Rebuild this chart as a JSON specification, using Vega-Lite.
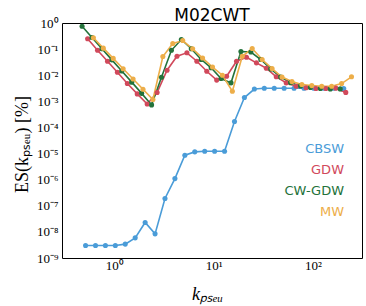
{
  "$schema": "https://vega.github.io/schema/vega-lite/v6.json",
  "width": 300,
  "height": 235,
  "autosize": {"type": "none"},
  "padding": {"left": 62, "top": 23, "right": 4, "bottom": 48},
  "background": "white",
  "title": {"text": "M02CWT", "font": "DejaVu Sans", "fontSize": 17, "fontWeight": "normal", "color": "black", "baseline": "alphabetic", "offset": -21, "frame": "group"},
  "config": {
    "view": {"stroke": "black", "strokeWidth": 1},
    "axis": {"grid": false, "domain": false, "tickColor": "black", "tickWidth": 0.8, "labelColor": "black", "titleColor": "black", "labelOverlap": false, "labelFlush": false, "labelBound": false}
  },
  "data": {"values": [
    {"m": "CBSW", "k": 0.513, "es": 3.0e-9}, {"m": "CBSW", "k": 0.646, "es": 3.0e-9}, {"m": "CBSW", "k": 0.813, "es": 3.0e-9}, {"m": "CBSW", "k": 1.023, "es": 3.0e-9},
    {"m": "CBSW", "k": 1.288, "es": 3.4e-9}, {"m": "CBSW", "k": 1.622, "es": 5.9e-9}, {"m": "CBSW", "k": 2.042, "es": 2.3e-8}, {"m": "CBSW", "k": 2.571, "es": 8.4e-9},
    {"m": "CBSW", "k": 3.236, "es": 1.9e-7}, {"m": "CBSW", "k": 4.074, "es": 1.1e-6}, {"m": "CBSW", "k": 5.129, "es": 8.6e-6}, {"m": "CBSW", "k": 6.457, "es": 1.16e-5},
    {"m": "CBSW", "k": 8.129, "es": 1.22e-5}, {"m": "CBSW", "k": 10.23, "es": 1.22e-5}, {"m": "CBSW", "k": 12.88, "es": 1.22e-5}, {"m": "CBSW", "k": 16.22, "es": 1.7e-4},
    {"m": "CBSW", "k": 20.42, "es": 1.4e-3}, {"m": "CBSW", "k": 25.71, "es": 2.95e-3}, {"m": "CBSW", "k": 32.36, "es": 3.15e-3}, {"m": "CBSW", "k": 40.74, "es": 3.15e-3},
    {"m": "CBSW", "k": 51.29, "es": 3.15e-3}, {"m": "CBSW", "k": 64.57, "es": 3.15e-3}, {"m": "CBSW", "k": 81.29, "es": 3.15e-3}, {"m": "CBSW", "k": 102.3, "es": 3.15e-3},
    {"m": "CBSW", "k": 128.8, "es": 3.15e-3}, {"m": "CBSW", "k": 162.2, "es": 3.15e-3}, {"m": "CBSW", "k": 204.2, "es": 3.1e-3},
    {"m": "GDW", "k": 0.538, "es": 0.248}, {"m": "GDW", "k": 0.677, "es": 0.0906}, {"m": "GDW", "k": 0.853, "es": 0.0343}, {"m": "GDW", "k": 1.073, "es": 0.013},
    {"m": "GDW", "k": 1.351, "es": 0.0048}, {"m": "GDW", "k": 1.701, "es": 0.00193}, {"m": "GDW", "k": 2.142, "es": 0.00079}, {"m": "GDW", "k": 2.696, "es": 0.00217},
    {"m": "GDW", "k": 3.394, "es": 0.0155}, {"m": "GDW", "k": 4.273, "es": 0.0534}, {"m": "GDW", "k": 5.38, "es": 0.0721}, {"m": "GDW", "k": 6.773, "es": 0.0343},
    {"m": "GDW", "k": 8.527, "es": 0.0142}, {"m": "GDW", "k": 10.73, "es": 0.0065}, {"m": "GDW", "k": 13.51, "es": 0.0091}, {"m": "GDW", "k": 17.01, "es": 0.0343},
    {"m": "GDW", "k": 21.42, "es": 0.0489}, {"m": "GDW", "k": 26.96, "es": 0.0298}, {"m": "GDW", "k": 33.94, "es": 0.0185}, {"m": "GDW", "k": 42.73, "es": 0.0087},
    {"m": "GDW", "k": 53.8, "es": 0.0051}, {"m": "GDW", "k": 67.73, "es": 0.0038}, {"m": "GDW", "k": 85.27, "es": 0.0033}, {"m": "GDW", "k": 107.3, "es": 0.0031},
    {"m": "GDW", "k": 135.1, "es": 0.0031}, {"m": "GDW", "k": 170.1, "es": 0.0032}, {"m": "GDW", "k": 214.2, "es": 0.0022},
    {"m": "CW-GDW", "k": 0.473, "es": 0.754}, {"m": "CW-GDW", "k": 0.595, "es": 0.28}, {"m": "CW-GDW", "k": 0.75, "es": 0.104}, {"m": "CW-GDW", "k": 0.944, "es": 0.0388},
    {"m": "CW-GDW", "k": 1.188, "es": 0.0146}, {"m": "CW-GDW", "k": 1.496, "es": 0.00543}, {"m": "CW-GDW", "k": 1.883, "es": 0.00202}, {"m": "CW-GDW", "k": 2.371, "es": 0.00073},
    {"m": "CW-GDW", "k": 2.984, "es": 0.0084}, {"m": "CW-GDW", "k": 3.757, "es": 0.09}, {"m": "CW-GDW", "k": 4.73, "es": 0.233}, {"m": "CW-GDW", "k": 5.955, "es": 0.103},
    {"m": "CW-GDW", "k": 7.497, "es": 0.04}, {"m": "CW-GDW", "k": 9.438, "es": 0.0192}, {"m": "CW-GDW", "k": 11.88, "es": 0.0075}, {"m": "CW-GDW", "k": 14.96, "es": 0.0051},
    {"m": "CW-GDW", "k": 18.83, "es": 0.081}, {"m": "CW-GDW", "k": 23.71, "es": 0.077}, {"m": "CW-GDW", "k": 29.84, "es": 0.04}, {"m": "CW-GDW", "k": 37.57, "es": 0.0173},
    {"m": "CW-GDW", "k": 47.3, "es": 0.0085}, {"m": "CW-GDW", "k": 59.55, "es": 0.0052}, {"m": "CW-GDW", "k": 74.97, "es": 0.0039}, {"m": "CW-GDW", "k": 94.38, "es": 0.0034},
    {"m": "CW-GDW", "k": 118.8, "es": 0.0031}, {"m": "CW-GDW", "k": 149.6, "es": 0.003}, {"m": "CW-GDW", "k": 188.3, "es": 0.003},
    {"m": "MW", "k": 0.615, "es": 0.271}, {"m": "MW", "k": 0.774, "es": 0.109}, {"m": "MW", "k": 0.974, "es": 0.044}, {"m": "MW", "k": 1.226, "es": 0.0177},
    {"m": "MW", "k": 1.544, "es": 0.0072}, {"m": "MW", "k": 1.943, "es": 0.0029}, {"m": "MW", "k": 2.446, "es": 0.00117}, {"m": "MW", "k": 3.08, "es": 0.052},
    {"m": "MW", "k": 3.877, "es": 0.164}, {"m": "MW", "k": 4.881, "es": 0.213}, {"m": "MW", "k": 6.145, "es": 0.103}, {"m": "MW", "k": 7.736, "es": 0.0455},
    {"m": "MW", "k": 9.739, "es": 0.0206}, {"m": "MW", "k": 12.26, "es": 0.01}, {"m": "MW", "k": 15.44, "es": 0.00243}, {"m": "MW", "k": 19.43, "es": 0.053},
    {"m": "MW", "k": 24.46, "es": 0.105}, {"m": "MW", "k": 30.8, "es": 0.04}, {"m": "MW", "k": 38.77, "es": 0.018}, {"m": "MW", "k": 48.81, "es": 0.0085},
    {"m": "MW", "k": 61.45, "es": 0.0057}, {"m": "MW", "k": 77.36, "es": 0.0044}, {"m": "MW", "k": 97.39, "es": 0.004}, {"m": "MW", "k": 122.6, "es": 0.0038},
    {"m": "MW", "k": 154.4, "es": 0.0038}, {"m": "MW", "k": 194.3, "es": 0.0048}, {"m": "MW", "k": 244.6, "es": 0.0087}
  ]},
  "layer": [
    {
      "mark": {"type": "line", "strokeWidth": 1.6},
      "encoding": {
        "x": {"field": "k", "type": "quantitative", "scale": {"type": "log", "domain": [0.297, 312], "nice": false},
          "axis": {"orient": "bottom", "tickSize": 0,
            "values": [0.3,0.4,0.5,0.6,0.7,0.8,0.9,1,2,3,4,5,6,7,8,9,10,20,30,40,50,60,70,80,90,100,200,300],
            "labelExpr": "abs(log(datum.value)/LN10 - round(log(datum.value)/LN10)) < 1e-6 ? '10' + (round(log(datum.value)/LN10) < 0 ? '⁻' : '') + ['⁰','¹','²','³','⁴','⁵','⁶','⁷','⁸','⁹'][abs(round(log(datum.value)/LN10))] : ''",
            "labelFont": "Liberation Serif", "labelFontSize": 13, "labelPadding": 1,
            "encode": {"ticks": {"update": {"y2": {"signal": "abs(log(datum.value)/LN10 - round(log(datum.value)/LN10)) < 1e-6 ? -5 : -2.5"}}}},
            "title": "kₚₛₑᵤ", "titleFont": "Liberation Serif", "titleFontStyle": "italic", "titleFontSize": 18, "titleFontWeight": "normal", "titlePadding": 13, "titleX": 145}},
        "y": {"field": "es", "type": "quantitative", "scale": {"type": "log", "domain": [1e-9, 1], "nice": false},
          "axis": {"orient": "left", "tickSize": 0,
            "values": [1e-9,2e-9,3e-9,4e-9,5e-9,6e-9,7e-9,8e-9,9e-9,1e-8,2e-8,3e-8,4e-8,5e-8,6e-8,7e-8,8e-8,9e-8,1e-7,2e-7,3e-7,4e-7,5e-7,6e-7,7e-7,8e-7,9e-7,1e-6,2e-6,3e-6,4e-6,5e-6,6e-6,7e-6,8e-6,9e-6,1e-5,2e-5,3e-5,4e-5,5e-5,6e-5,7e-5,8e-5,9e-5,1e-4,2e-4,3e-4,4e-4,5e-4,6e-4,7e-4,8e-4,9e-4,1e-3,2e-3,3e-3,4e-3,5e-3,6e-3,7e-3,8e-3,9e-3,1e-2,2e-2,3e-2,4e-2,5e-2,6e-2,7e-2,8e-2,9e-2,0.1,0.2,0.3,0.4,0.5,0.6,0.7,0.8,0.9,1],
            "labelExpr": "abs(log(datum.value)/LN10 - round(log(datum.value)/LN10)) < 1e-6 ? '10' + (round(log(datum.value)/LN10) < 0 ? '⁻' : '') + ['⁰','¹','²','³','⁴','⁵','⁶','⁷','⁸','⁹'][abs(round(log(datum.value)/LN10))] : ''",
            "labelFont": "Liberation Serif", "labelFontSize": 13, "labelPadding": 4,
            "encode": {"ticks": {"update": {"x2": {"signal": "abs(log(datum.value)/LN10 - round(log(datum.value)/LN10)) < 1e-6 ? 5 : 2.5"}}}},
            "title": "ES(kₚₛₑᵤ)  [%]", "titleFont": "Liberation Serif", "titleFontSize": 18, "titleFontWeight": "normal", "titlePadding": 5, "titleY": 121}},
        "color": {"field": "m", "type": "nominal",
          "scale": {"domain": ["CBSW", "GDW", "CW-GDW", "MW"], "range": ["#4a9cd8", "#d1495b", "#23723a", "#edae49"]},
          "legend": {"orient": "none", "legendX": 269, "legendY": 119, "title": null, "symbolSize": 0, "symbolStrokeWidth": 0, "symbolOpacity": 0,
            "labelAlign": "right", "labelFont": "DejaVu Sans", "labelFontSize": 13, "labelOffset": 0, "rowPadding": 7,
            "encode": {"labels": {"update": {"fill": {"scale": "color", "field": "value"}}}}}}
      }
    },
    {
      "mark": {"type": "circle", "size": 26, "opacity": 1},
      "encoding": {
        "x": {"field": "k", "type": "quantitative", "scale": {"type": "log", "domain": [0.297, 312], "nice": false}, "axis": null},
        "y": {"field": "es", "type": "quantitative", "scale": {"type": "log", "domain": [1e-9, 1], "nice": false}, "axis": null},
        "color": {"field": "m", "type": "nominal", "scale": {"domain": ["CBSW", "GDW", "CW-GDW", "MW"], "range": ["#4a9cd8", "#d1495b", "#23723a", "#edae49"]}, "legend": null}
      }
    },
    {
      "mark": {"type": "point", "opacity": 0},
      "encoding": {
        "x": {"field": "k", "type": "quantitative", "scale": {"type": "log", "domain": [0.297, 312], "nice": false},
          "axis": {"orient": "top", "tickSize": 0, "labels": false, "title": null,
            "values": [0.3,0.4,0.5,0.6,0.7,0.8,0.9,1,2,3,4,5,6,7,8,9,10,20,30,40,50,60,70,80,90,100,200,300],
            "encode": {"ticks": {"update": {"y2": {"signal": "abs(log(datum.value)/LN10 - round(log(datum.value)/LN10)) < 1e-6 ? 5 : 2.5"}}}}}},
        "y": {"field": "es", "type": "quantitative", "scale": {"type": "log", "domain": [1e-9, 1], "nice": false},
          "axis": {"orient": "right", "tickSize": 0, "labels": false, "title": null,
            "values": [1e-9,2e-9,3e-9,4e-9,5e-9,6e-9,7e-9,8e-9,9e-9,1e-8,2e-8,3e-8,4e-8,5e-8,6e-8,7e-8,8e-8,9e-8,1e-7,2e-7,3e-7,4e-7,5e-7,6e-7,7e-7,8e-7,9e-7,1e-6,2e-6,3e-6,4e-6,5e-6,6e-6,7e-6,8e-6,9e-6,1e-5,2e-5,3e-5,4e-5,5e-5,6e-5,7e-5,8e-5,9e-5,1e-4,2e-4,3e-4,4e-4,5e-4,6e-4,7e-4,8e-4,9e-4,1e-3,2e-3,3e-3,4e-3,5e-3,6e-3,7e-3,8e-3,9e-3,1e-2,2e-2,3e-2,4e-2,5e-2,6e-2,7e-2,8e-2,9e-2,0.1,0.2,0.3,0.4,0.5,0.6,0.7,0.8,0.9,1],
            "encode": {"ticks": {"update": {"x2": {"signal": "abs(log(datum.value)/LN10 - round(log(datum.value)/LN10)) < 1e-6 ? -5 : -2.5"}}}}}},
        "color": {"value": "transparent"}
      }
    }
  ],
  "resolve": {"axis": {"x": "independent", "y": "independent"}}
}
